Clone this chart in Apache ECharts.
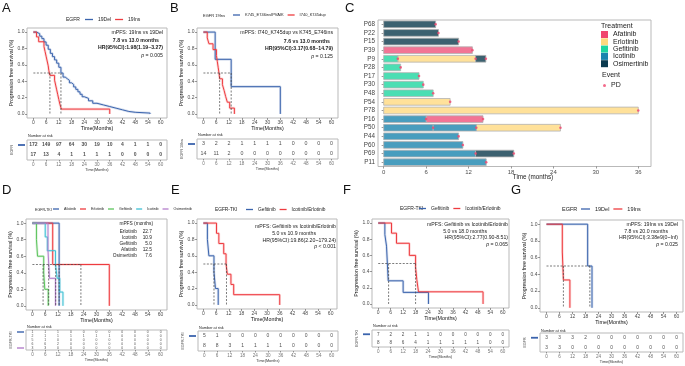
<!DOCTYPE html>
<html>
<head>
<meta charset="utf-8">
<script src="https://cdn.jsdelivr.net/npm/echarts@6/dist/echarts.min.js"></script>
<style>
  html, body { margin: 0; padding: 0; background: #fff; }
  #chart { width: 685px; height: 366px; }
</style>
</head>
<body>
<div id="chart"></div>
<script>
// shared ticks
const timeTicks = [0, 6, 12, 18, 24, 30, 36, 42, 48, 54, 60];
const survTicks = [0, 0.2, 0.4, 0.6, 0.8, 1];
const swimTicks = [0, 6, 12, 18, 24, 30, 36];

// A: 19Del vs 19Ins
const aDelTime = [0, 1.5, 3, 4, 5, 6, 7, 8, 9, 10, 11, 12, 13, 14, 15, 16, 17, 18, 19, 20, 21, 22, 23, 24, 26, 28, 30, 33, 36, 39, 42, 45, 48, 55];
const aDelSurv = [1, 0.98, 0.95, 0.92, 0.88, 0.84, 0.79, 0.74, 0.70, 0.66, 0.62, 0.57, 0.50, 0.45, 0.43, 0.41, 0.38, 0.36, 0.33, 0.30, 0.27, 0.24, 0.21, 0.19, 0.16, 0.13, 0.11, 0.09, 0.07, 0.05, 0.03, 0.02, 0.01, 0];
const aInsTime = [0, 1.5, 2.5, 5, 5.5, 6, 6.5, 7, 7.3, 7.8, 10, 10.5, 11, 11.5, 12, 12.5, 13.2, 36];
const aInsSurv = [1, 0.941, 0.882, 0.824, 0.765, 0.706, 0.647, 0.588, 0.529, 0.471, 0.412, 0.353, 0.294, 0.235, 0.176, 0.118, 0.059, 0];
const aDelRisk = [172, 149, 97, 64, 30, 19, 10, 4, 1, 1, 0];
const aInsRisk = [17, 13, 4, 1, 1, 1, 1, 0, 0, 0, 0];
const aMedians = [7.8, 13.0];

// B: 19Ins subtypes
const bIpvTime = [0, 5.5, 13, 36];
const bIpvSurv = [1, 0.667, 0.333, 0];
const bDupTime = [0, 1.8, 2.6, 4.5, 6.1, 6.5, 6.9, 7.3, 7.6, 8.9, 9.7, 10.4, 11.2, 12.3, 14.5];
const bDupSurv = [1, 0.929, 0.857, 0.786, 0.714, 0.643, 0.571, 0.5, 0.429, 0.357, 0.286, 0.214, 0.143, 0.071, 0];
const bIpvRisk = [3, 2, 2, 1, 1, 1, 1, 0, 0, 0, 0];
const bDupRisk = [14, 11, 2, 0, 0, 0, 0, 0, 0, 0, 0];
const bMedians = [7.6, 13.0];

// D: by EGFR-TKI
const dAfaTime = [0, 12.5];              const dAfaSurv = [1, 0];
const dErlTime = [0, 9.5, 36];           const dErlSurv = [1, 0.5, 0];
const dGefTime = [0, 1.9, 2.4, 5.3, 5.8, 7.4];  const dGefSurv = [1, 0.8, 0.6, 0.4, 0.2, 0];
const dIcoTime = [0, 6, 7, 10.8, 11.6, 12.8, 14.3]; const dIcoSurv = [1, 0.833, 0.667, 0.5, 0.333, 0.167, 0];
const dOsiTime = [0, 7.3, 8.0, 10.8];    const dOsiSurv = [1, 0.667, 0.333, 0];
const dAfaRisk = [1, 1, 1, 0, 0, 0, 0, 0, 0, 0, 0];
const dErlRisk = [2, 1, 1, 1, 1, 1, 1, 0, 0, 0, 0];
const dGefRisk = [5, 1, 0, 0, 0, 0, 0, 0, 0, 0, 0];
const dIcoRisk = [6, 6, 2, 0, 0, 0, 0, 0, 0, 0, 0];
const dOsiRisk = [3, 3, 0, 0, 0, 0, 0, 0, 0, 0, 0];
const dMedians = [5.0, 7.6, 10.9, 12.5, 22.7];
const dNames = ['Erlotinib', 'Icotinib', 'Gefitinib', 'Afatinib', 'Osimertinib'];
const dMpfs = ['22.7', '10.9', '5.0', '12.5', '7.6'];

// E: Gefitinib vs Icotinib/Erlotinib
const eGefTime = [0, 1.9, 2.6, 5.0, 5.7, 7.0];
const eGefSurv = [1, 0.8, 0.6, 0.4, 0.2, 0];
const eIETime = [0, 6.2, 7.3, 9.6, 10.7, 11.3, 13, 14.3, 36];
const eIESurv = [1, 0.875, 0.75, 0.625, 0.5, 0.375, 0.25, 0.125, 0];
const eGefRisk = [5, 1, 0, 0, 0, 0, 0, 0, 0, 0, 0];
const eIERisk = [8, 8, 3, 1, 1, 1, 1, 0, 0, 0, 0];
const eMedians = [5.0, 10.9];

// F: Gefitinib vs Icotinib/Erlotinib (second cohort)
const fGefTime = [0, 3.2, 4.0, 4.8, 12.0, 24.2];
const fGefSurv = [1, 0.857, 0.714, 0.286, 0.143, 0];
const fIETime = [0, 6.4, 8.8, 15.0, 18.0, 18.6, 19.4, 50.5];
const fIESurv = [1, 0.875, 0.75, 0.6, 0.45, 0.3, 0.15, 0];
const fGefRisk = [7, 2, 2, 1, 1, 0, 0, 0, 0, 0, 0];
const fIERisk = [8, 8, 6, 4, 1, 1, 1, 1, 1, 0, 0];
const fMedians = [5.0, 18.0];

// G: 19Del vs 19Ins (small cohort)
const gDelTime = [0, 19, 21];        const gDelSurv = [1, 0.5, 0];
const gInsTime = [0, 7.3, 7.8, 10.8]; const gInsSurv = [1, 0.667, 0.333, 0];
const gDelRisk = [3, 3, 3, 2, 0, 0, 0, 0, 0, 0, 0];
const gInsRisk = [3, 3, 0, 0, 0, 0, 0, 0, 0, 0, 0];
const gMedians = [7.8, 20.0];

// C: swimmer plot
const cPatients = ['P68', 'P22', 'P15', 'P39', 'P9', 'P28', 'P17', 'P30', 'P48', 'P54', 'P78', 'P16', 'P50', 'P44', 'P60', 'P69', 'P11'];
const cTreatments = ['Afatinib', 'Erlotinib', 'Gefitinib', 'Icotinib', 'Osimertinib'];
const cSegments = [
  ['P68', 'Osimertinib', 0, 7.35],
  ['P22', 'Osimertinib', 0, 7.75],
  ['P15', 'Osimertinib', 0, 10.6],
  ['P39', 'Afatinib', 0, 12.55],
  ['P9', 'Gefitinib', 0, 2.0],
  ['P9', 'Erlotinib', 2.0, 13.0],
  ['P9', 'Osimertinib', 13.0, 14.45],
  ['P28', 'Gefitinib', 0, 2.4],
  ['P17', 'Gefitinib', 0, 5.0],
  ['P30', 'Gefitinib', 0, 5.6],
  ['P48', 'Gefitinib', 0, 7.0],
  ['P54', 'Erlotinib', 0, 9.4],
  ['P78', 'Erlotinib', 0, 36.0],
  ['P16', 'Icotinib', 0, 6.0],
  ['P16', 'Afatinib', 6.0, 14.05],
  ['P50', 'Icotinib', 0, 7.0],
  ['P50', 'Icotinib', 7.0, 13.1],
  ['P50', 'Erlotinib', 13.1, 25.0],
  ['P44', 'Icotinib', 0, 10.6],
  ['P60', 'Icotinib', 0, 11.2],
  ['P69', 'Icotinib', 0, 13.0],
  ['P69', 'Osimertinib', 13.0, 18.4],
  ['P11', 'Icotinib', 0, 14.5]
];

const FONT = '"Liberation Sans", Arial, sans-serif';
const FRAME = '#b9b9b9';
const BLUE = '#3B64AD', RED = '#EE3B3F';
const TKI = { Afatinib: '#3B64AD', Erlotinib: '#EE3B3F', Gefitinib: '#5CC45C', Icotinib: '#3EC0D4', Osimertinib: '#B37ECB' };
const cColors = ['#F0466E', '#FFD97F', '#1ED6A0', '#1A85AE', '#0B3A4F'];
const cFills = ['#F27595', '#FFE19A', '#4BDEB3', '#489DBE', '#3C6170'];
const pdColor = '#F0466E';

const it = s => '{i|p}' + s;
const panels = [
  {
    id: 'A', letter: [2, 2], plot: { left: 27, top: 28, width: 140, height: 90 }, table: { left: 27, top: 140, width: 140, height: 20 },
    legendTitle: 'EGFR', titleX: 66, legY: 20, legLeft: 85, legFont: 5, legItem: 8,
    curves: [
      { name: '19Del', color: BLUE, time: aDelTime, surv: aDelSurv, risk: aDelRisk },
      { name: '19Ins', color: RED, time: aInsTime, surv: aInsSurv, risk: aInsRisk }
    ],
    medians: aMedians, tableName: 'EGFR', riskFont: 5, riskBold: true, nrY: 136,
    notes: [[163, 33, 'mPFS: 19Ins vs 19Del'], [159, 41, '7.8 vs 13.0 months', 'bold'], [163, 48, 'HR(95%CI):1.98(1.19~3.27)', 'bold'], [163, 56, it(' = 0.005')]]
  },
  {
    id: 'B', letter: [170, 2], plot: { left: 197, top: 28, width: 141, height: 90 }, table: { left: 197, top: 139, width: 141, height: 20 },
    legendTitle: 'EGFR 19Ins', titleX: 203, legY: 16, legLeft: 233, legFont: 4, legItem: 7,
    curves: [
      { name: 'K745_E746insIPVAIK', color: BLUE, time: bIpvTime, surv: bIpvSurv, risk: bIpvRisk },
      { name: 'I740_K745dup', color: RED, time: bDupTime, surv: bDupSurv, risk: bDupRisk }
    ],
    medians: bMedians, tableName: 'EGFR 19Ins', riskFont: 5.3, nrY: 135,
    notes: [[333, 33, 'mPFS: I740_K745dup vs K745_E746ins'], [330, 42, '7.6 vs 13.0 months', 'bold'], [333, 49, 'HR(95%CI):3.17(0.68~14.79)', 'bold'], [333, 57, it(' = 0.125')]]
  },
  {
    id: 'D', letter: [2, 184], plot: { left: 26, top: 219, width: 141, height: 91 }, table: { left: 26, top: 330, width: 141, height: 20 },
    legendTitle: 'EGFR-TKI', titleX: 35, legY: 210, legLeft: 53, legFont: 3.6, legItem: 6,
    curves: [
      { name: 'Afatinib', color: TKI.Afatinib, time: dAfaTime, surv: dAfaSurv, risk: dAfaRisk },
      { name: 'Erlotinib', color: TKI.Erlotinib, time: dErlTime, surv: dErlSurv, risk: dErlRisk },
      { name: 'Gefitinib', color: TKI.Gefitinib, time: dGefTime, surv: dGefSurv, risk: dGefRisk },
      { name: 'Icotinib', color: TKI.Icotinib, time: dIcoTime, surv: dIcoSurv, risk: dIcoRisk },
      { name: 'Osimertinib', color: TKI.Osimertinib, time: dOsiTime, surv: dOsiSurv, risk: dOsiRisk }
    ],
    medians: dMedians, tableName: 'EGFR-TKI', riskFont: 3.4, nrY: 327, notes: []
  },
  {
    id: 'E', letter: [171, 184], plot: { left: 197, top: 219, width: 140, height: 90 }, table: { left: 198, top: 331, width: 140, height: 20 },
    legendTitle: 'EGFR-TKI', titleX: 215, legY: 210, legLeft: 246, legFont: 4.8, legItem: 7,
    curves: [
      { name: 'Gefitinib', color: BLUE, time: eGefTime, surv: eGefSurv, risk: eGefRisk },
      { name: 'Icotinib/Erlotinib', color: RED, time: eIETime, surv: eIESurv, risk: eIERisk }
    ],
    medians: eMedians, tableName: 'EGFR-TKI', riskFont: 5, nrY: 328,
    notes: [[336, 227, 'mPFS: Gefitinib vs Icotinib/Erlotinib'], [316, 234, '5.0 vs 10.9 months'], [336, 241, 'HR(95%CI):19.86(2.20~179.24)'], [336, 247, it(' < 0.001')]]
  },
  {
    id: 'F', letter: [343, 184], plot: { left: 372, top: 219, width: 137, height: 89 }, table: { left: 372, top: 330, width: 137, height: 17 },
    legendTitle: 'EGFR-TKI', titleX: 400, legY: 209, legLeft: 419, legFont: 5, legItem: 7,
    curves: [
      { name: 'Gefitinib', color: BLUE, time: fGefTime, surv: fGefSurv, risk: fGefRisk },
      { name: 'Icotinib/Erlotinib', color: RED, time: fIETime, surv: fIESurv, risk: fIERisk }
    ],
    medians: fMedians, tableName: 'EGFR-TKI', riskFont: 4.6, nrY: 326,
    notes: [[508, 225, 'mPFS: Gefitinib vs Icotinib/Erlotinib'], [487, 232, '5.0 vs 18.0 months'], [508, 238, 'HR(95%CI):2.77(0.90-8.51)'], [508, 245, it(' = 0.065')]]
  },
  {
    id: 'G', letter: [511, 184], plot: { left: 540, top: 220, width: 143, height: 92 }, table: { left: 540, top: 333, width: 143, height: 19 },
    legendTitle: 'EGFR', titleX: 562, legY: 209, legLeft: 581, legFont: 5.5, legItem: 9,
    curves: [
      { name: '19Del', color: BLUE, time: gDelTime, surv: gDelSurv, risk: gDelRisk },
      { name: '19Ins', color: RED, time: gInsTime, surv: gInsSurv, risk: gInsRisk }
    ],
    medians: gMedians, tableName: 'EGFR', riskFont: 4.8, nrY: 331,
    notes: [[678, 225, 'mPFS: 19Ins vs 19Del'], [668, 232, '7.8 vs 20.0 months'], [678, 238, 'HR(95%CI):3.38e9(0~Inf)'], [678, 245, it(' = 0.025')]]
  }
];

const grids = [], xAxes = [], yAxes = [], series = [], legends = [], graphics = [];
const zip = (xs, ys) => xs.map((x, i) => [x, ys[i]]);
const txt = (x, y, text, o = {}) => ({
  type: 'text', x, y, silent: true,
  style: {
    text, fontSize: o.size || 5, fontFamily: FONT, fontWeight: o.weight || 'normal', fill: o.color || '#222',
    align: o.align || 'left', verticalAlign: o.valign || 'middle',
    rich: { i: { fontStyle: 'italic', fontSize: o.size || 5, fontFamily: FONT, fill: o.color || '#222' } }
  }
});
const tick = (vals, len) => ({ show: true, customValues: vals, length: len, lineStyle: { color: '#555', width: 0.6 } });
const dash = (g, data) => ({
  type: 'line', xAxisIndex: g, yAxisIndex: g, data, symbol: 'none', silent: true, z: 4,
  lineStyle: { color: '#444', width: 0.7, type: [2, 1.5] }
});

panels.forEach(p => {
  const g = grids.length;
  grids.push({ ...p.plot, show: true, borderColor: FRAME, borderWidth: 1, outerBoundsMode: 'none' });
  xAxes.push({
    gridIndex: g, type: 'value', min: -3, max: 63,
    axisLine: { show: false, onZero: false }, splitLine: { show: false }, axisTick: tick(timeTicks, 2),
    axisLabel: { customValues: timeTicks, fontSize: 5, color: '#4d4d4d', margin: 2.5, fontFamily: FONT },
    name: 'Time(Months)', nameLocation: 'middle', nameGap: 8,
    nameTextStyle: { fontSize: 5.3, color: '#111', fontFamily: FONT }
  });
  yAxes.push({
    gridIndex: g, type: 'value', min: -0.05, max: 1.05,
    axisLine: { show: false, onZero: false }, splitLine: { show: false }, axisTick: tick(survTicks, 2),
    axisLabel: { customValues: survTicks, formatter: v => v.toFixed(1), fontSize: 5, color: '#4d4d4d', margin: 2.5, fontFamily: FONT },
    name: 'Progression free survival (%)', nameLocation: 'middle', nameGap: 11,
    nameTextStyle: { fontSize: 5.2, color: '#111', fontFamily: FONT }
  });

  const t = grids.length;
  grids.push({ ...p.table, show: true, borderColor: FRAME, borderWidth: 1, outerBoundsMode: 'none' });
  xAxes.push({
    gridIndex: t, type: 'value', min: -3, max: 63,
    axisLine: { show: false, onZero: false }, splitLine: { show: false }, axisTick: tick(timeTicks, 1.5),
    axisLabel: { customValues: timeTicks, fontSize: 4.6, color: '#777', margin: 2, fontFamily: FONT },
    name: 'Time(Months)', nameLocation: 'middle', nameGap: 7,
    nameTextStyle: { fontSize: 3.8, color: '#333', fontFamily: FONT }
  });
  const rich = {};
  const many = p.curves.length > 2;
  p.curves.forEach((c, i) => {
    rich['c' + i] = { backgroundColor: c.color, width: 7, height: many ? 1.4 : 1.8, lineHeight: many ? 1.4 : 1.8, fontSize: 1 };
  });
  yAxes.push({
    gridIndex: t, type: 'category', inverse: true, data: p.curves.map(c => c.name),
    axisLine: { show: false }, axisTick: { show: false }, splitLine: { show: false },
    axisLabel: { formatter: (v, i) => '{c' + i + '| }', rich, margin: 2 },
    name: p.tableName, nameLocation: 'middle', nameGap: 12,
    nameTextStyle: { fontSize: 3.6, color: '#333', fontFamily: FONT }
  });

  // curves
  p.curves.forEach((c, i) => {
    const data = zip(c.time, c.surv);
    series.push({
      type: 'line', name: p.id + '|' + c.name + '|ci', xAxisIndex: g, yAxisIndex: g, step: 'end', symbol: 'none', data,
      lineStyle: { color: c.color, width: 2.6, opacity: 0.2 }, z: 2, silent: true
    });
    series.push({
      type: 'line', name: p.id + '|' + c.name, xAxisIndex: g, yAxisIndex: g, step: 'end', symbol: 'none', data,
      itemStyle: { color: c.color }, lineStyle: { color: c.color, width: 1 }, z: 3, silent: true
    });
    series.push({
      type: 'scatter', xAxisIndex: t, yAxisIndex: t, symbolSize: 0, silent: true,
      itemStyle: { color: 'transparent' },
      data: timeTicks.map((x, j) => [x, i, c.risk[j]]),
      label: {
        show: true, position: 'inside', formatter: q => q.data[2], fontSize: p.riskFont,
        color: '#222', fontWeight: p.riskBold ? 'bold' : 'normal', fontFamily: FONT
      }
    });
  });

  // median guide lines
  const hEnd = Math.max(...p.medians);
  series.push(dash(g, [[0, 0.5], [hEnd, 0.5]]));
  p.medians.forEach(m => series.push(dash(g, [[m, 0.5], [m, 0]])));

  legends.push({
    left: p.legLeft, top: p.legY - 3, padding: 0, selectedMode: false, icon: 'rect',
    itemWidth: p.legItem, itemHeight: 1.3, itemGap: 4,
    data: p.curves.map(c => p.id + '|' + c.name), formatter: n => n.split('|')[1],
    textStyle: { fontSize: p.legFont, color: '#222', fontFamily: FONT }
  });
  graphics.push(txt(p.titleX, p.legY, p.legendTitle, { size: p.legFont }));
  graphics.push(txt(p.letter[0], p.letter[1], p.id, { size: 13, valign: 'top', color: '#111' }));
  graphics.push(txt(p.table.left + 1, p.nrY, 'Number at risk', { size: 3.8 }));
  p.notes.forEach(n => graphics.push(txt(n[0], n[1], n[2], { align: 'right', size: 5.2, weight: n[3] || 'normal' })));
});

// D mPFS table text
graphics.push(txt(153, 224, 'mPFS (months)', { align: 'right', size: 4.8 }));
dNames.forEach((n, i) => {
  graphics.push(txt(137, 232 + i * 5.8, n, { align: 'right', size: 4.8 }));
  graphics.push(txt(152, 232 + i * 5.8, dMpfs[i], { align: 'right', size: 4.8 }));
});

// C swimmer plot
const cg = grids.length;
grids.push({ left: 378, top: 20, width: 273, height: 146.5, show: true, borderColor: FRAME, borderWidth: 1, outerBoundsMode: 'none' });
xAxes.push({
  gridIndex: cg, type: 'value', min: -0.8, max: 37.8,
  axisLine: { show: false, onZero: false }, splitLine: { show: false }, axisTick: tick(swimTicks, 2),
  axisLabel: { customValues: swimTicks, fontSize: 6, color: '#4d4d4d', margin: 3, fontFamily: FONT }
});
yAxes.push({
  gridIndex: cg, type: 'category', inverse: true, data: cPatients,
  axisLine: { show: false }, splitLine: { show: false },
  axisTick: { show: true, alignWithLabel: true, length: 2, lineStyle: { color: '#555', width: 0.6 } },
  axisLabel: { fontSize: 6.3, color: '#444', margin: 3, fontFamily: FONT }
});
cTreatments.forEach((tr, k) => {
  series.push({
    type: 'custom', name: tr, xAxisIndex: cg, yAxisIndex: cg, silent: true,
    itemStyle: { color: cColors[k] },
    encode: { x: [0, 1], y: 2 },
    data: cSegments.filter(s => s[1] === tr).map(s => [s[2], s[3], cPatients.indexOf(s[0])]),
    renderItem: (params, api) => {
      const row = api.value(2);
      const a = api.coord([api.value(0), row]);
      const b = api.coord([api.value(1), row]);
      const h = api.size([0, 1])[1] * 0.78;
      return {
        type: 'rect',
        shape: { x: a[0], y: a[1] - h / 2, width: b[0] - a[0], height: h },
        style: { fill: cFills[k], stroke: '#b3b3b3', lineWidth: 0.8 }
      };
    }
  });
});
series.push({
  type: 'scatter', name: 'PD', xAxisIndex: cg, yAxisIndex: cg, silent: true, z: 5,
  symbol: 'circle', symbolSize: 2.6, itemStyle: { color: pdColor },
  data: cSegments.map(s => [s[3], cPatients.indexOf(s[0])])
});
legends.push({
  left: 601, top: 31, orient: 'vertical', padding: 0, selectedMode: false, icon: 'rect',
  itemWidth: 7, itemHeight: 7, itemGap: 0.3, data: cTreatments,
  textStyle: { fontSize: 7, color: '#222', fontFamily: FONT, lineHeight: 7 }
});
legends.push({
  left: 603, top: 82, padding: 0, selectedMode: false, icon: 'circle',
  itemWidth: 3, itemHeight: 3, data: ['PD'],
  textStyle: { fontSize: 7, color: '#222', fontFamily: FONT }
});
graphics.push(txt(601, 26, 'Treatment', { size: 7 }));
graphics.push(txt(602, 75, 'Event', { size: 7 }));
graphics.push(txt(533, 177, 'Time (months)', { size: 6.3, align: 'center' }));
graphics.push(txt(345, 2, 'C', { size: 13, valign: 'top', color: '#111' }));

const chart = echarts.init(document.getElementById('chart'), null, { renderer: 'canvas' });
chart.setOption({
  animation: false,
  backgroundColor: '#fff',
  grid: grids, xAxis: xAxes, yAxis: yAxes, series, legend: legends, graphic: graphics
});
</script>
</body>
</html>
